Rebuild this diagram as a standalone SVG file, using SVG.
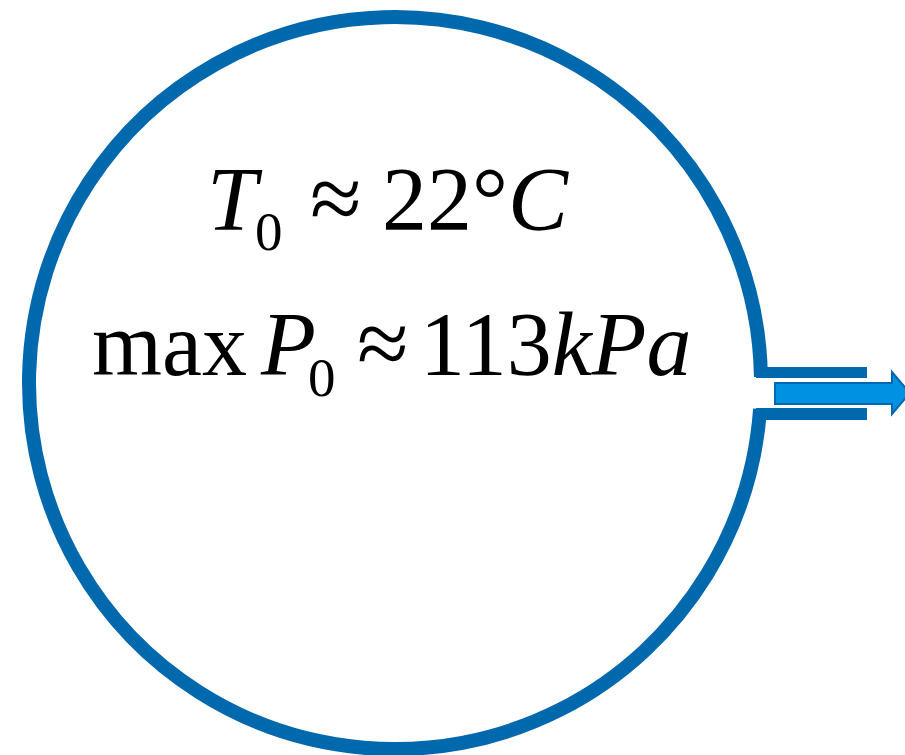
<svg xmlns="http://www.w3.org/2000/svg" width="905" height="755" viewBox="0 0 905 755">
<style>
.ring{fill:none;stroke:#0068AD;stroke-width:14}
.wall{fill:#0068AD}
.arrow{fill:#0091E3;stroke:#0068AD;stroke-width:2}
.t{font-family:"Liberation Serif","Times New Roman",serif;fill:#000}
.big{font-size:90px}
.sym{font-size:94px}
.sub{font-size:55px}
.it{font-style:italic}
</style>
<rect width="905" height="755" fill="#fff"/>
<g id="vessel">
<path class="ring" d="M 760.95 377 A 366 366 0 1 0 760.08 409"/>
<rect class="wall" x="756" y="367" width="111" height="11"/>
<rect class="wall" x="756" y="408" width="111" height="12"/>
</g>
<g id="connectors">
<polygon class="arrow" points="775,383 892,383 892,372 910,393 892,414 892,404 775,404"/>
</g>
<g id="labels">
<text class="t" x="207" y="230"><tspan class="big it">T</tspan><tspan class="sub" x="255" y="250">0</tspan></text>
<text class="t sym" x="310" y="230">≈</text>
<text class="t big" x="382" y="230">22°<tspan class="it">C</tspan></text>
<text class="t big" x="92" y="375">max</text>
<text class="t" x="261" y="375"><tspan class="big it">P</tspan><tspan class="sub" x="308" y="396">0</tspan></text>
<text class="t sym" x="357" y="375">≈</text>
<text class="t big" x="420" y="375">113<tspan class="it">kPa</tspan></text>
</g>
</svg>
